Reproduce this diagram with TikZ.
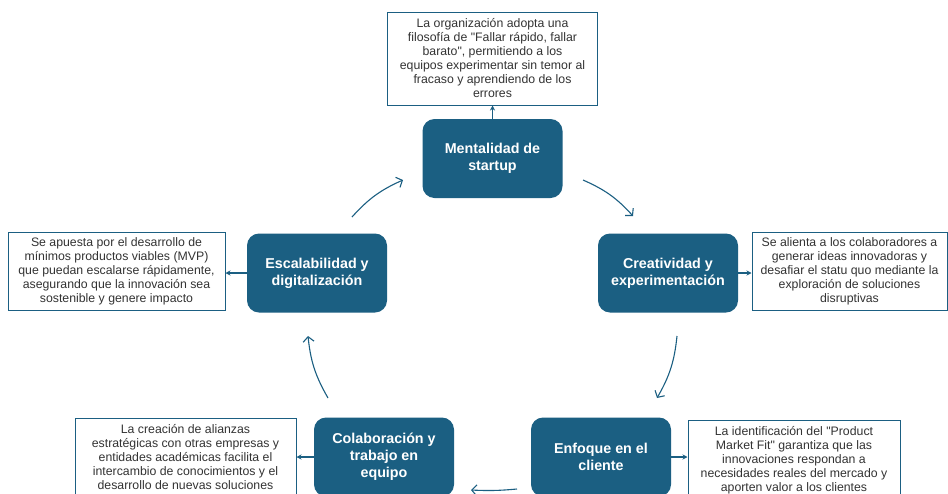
\documentclass[tikz,border=0pt]{standalone}
\usepackage{fontspec}
\setmainfont{Liberation Sans}
\usetikzlibrary{shapes, arrows.meta, positioning}
\definecolor{azul}{HTML}{1B5F82}
\definecolor{texto}{HTML}{333333}
\tikzstyle{etapa} = [rectangle, rounded corners=12pt, fill=azul, text=white, font=\bfseries\fontsize{14.3}{17}\selectfont, align=center, minimum width=140pt, minimum height=79pt, inner sep=0pt]
\tikzstyle{nota} = [rectangle, draw=azul, line width=1pt, fill=white, text=texto, font=\fontsize{12.3}{14}\selectfont, align=center, inner sep=0pt]
\tikzstyle{ciclo} = [-{Straight Barb[length=5pt,width=11pt]}, azul, line width=1.1pt]
\tikzstyle{enlace} = [-{Stealth[length=5pt,width=5pt]}, azul, line width=1.1pt]

\begin{document}
\begin{tikzpicture}[x=1pt, y=-1pt]
  \clip (0,0) rectangle (948,493);
  \fill[white] (0,0) rectangle (948,493);

  % etapas del ciclo
  \node[etapa] (ment) at (492.5,158.5) {Mentalidad de\\startup};
  \node[etapa] (crea) at (668,273) {Creatividad y\\experimentaci\'on};
  \node[etapa] (enfo) at (601,457) {Enfoque en el\\cliente};
  \node[etapa] (cola) at (384,457) {Colaboraci\'on y\\trabajo en\\equipo};
  \node[etapa] (esca) at (317,273) {Escalabilidad y\\digitalizaci\'on};

  % notas
  \node[nota, minimum width=210pt, minimum height=93pt] (notaM) at (492.5,58.5)
    {La organizaci\'on adopta una\\filosof\'ia de \textquotedbl Fallar r\'apido, fallar\\barato\textquotedbl, permitiendo a los\\equipos experimentar sin temor al\\fracaso y aprendiendo de los\\errores};
  \node[nota, minimum width=195pt, minimum height=78pt] (notaC) at (849.5,271)
    {Se alienta a los colaboradores a\\generar ideas innovadoras y\\desafiar el statu quo mediante la\\exploraci\'on de soluciones\\disruptivas};
  \node[nota, minimum width=212pt, minimum height=80pt] (notaE) at (794,460)
    {La identificaci\'on del \textquotedbl Product\\Market Fit\textquotedbl\ garantiza que las\\innovaciones respondan a\\necesidades reales del mercado y\\aporten valor a los clientes};
  \node[nota, minimum width=221pt, minimum height=78pt] (notaCo) at (185.5,457)
    {La creaci\'on de alianzas\\estrat\'egicas con otras empresas y\\entidades acad\'emicas facilita el\\intercambio de conocimientos y el\\desarrollo de nuevas soluciones};
  \node[nota, minimum width=217pt, minimum height=78pt] (notaEs) at (116.5,271)
    {Se apuesta por el desarrollo de\\m\'inimos productos viables (MVP)\\que puedan escalarse r\'apidamente,\\asegurando que la innovaci\'on sea\\sostenible y genere impacto};

  % enlaces etapa -> nota
  \draw[enlace] (ment.north) -- (notaM.south);
  \draw[enlace] (crea.east) -- (crea.east -| notaC.west);
  \draw[enlace] (enfo.east) -- (enfo.east -| notaE.west);
  \draw[enlace] (cola.west) -- (cola.west -| notaCo.east);
  \draw[enlace] (esca.west) -- (esca.west -| notaEs.east);

  % extremos de las flechas del ciclo
  \coordinate (e1) at (352,217); \coordinate (m1) at (403,180);
  \coordinate (m2) at (583,180); \coordinate (c2) at (633,216);
  \coordinate (c3) at (677,336); \coordinate (f3) at (657,398);
  \coordinate (f4) at (517,489); \coordinate (o4) at (471,490);
  \coordinate (o5) at (328,398); \coordinate (e5) at (308,336);

  % ciclo
  \draw[ciclo] (e1) to[bend left=12] (m1);
  \draw[ciclo] (m2) to[bend left=12] (c2);
  \draw[ciclo] (c3) to[bend left=12] (f3);
  \draw[ciclo] (f4) to[bend left=4] (o4);
  \draw[ciclo] (o5) to[bend left=12] (e5);
\end{tikzpicture}
\end{document}
